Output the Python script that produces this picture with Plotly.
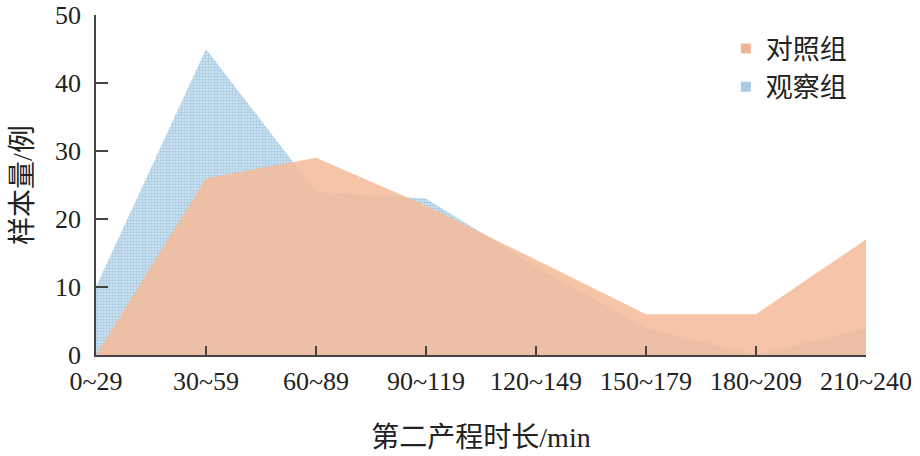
import plotly.graph_objects as go

categories = ["0~29", "30~59", "60~89", "90~119", "120~149", "150~179", "180~209", "210~240"]
control_values = [0, 26, 29, 22, 14, 6, 6, 17]      # 对照组
observe_values = [10, 45, 24, 23, 13, 4, 0, 4]      # 观察组
y_ticks = [0, 10, 20, 30, 40, 50]

FONT = "Liberation Serif, Times New Roman, Noto Sans CJK SC, serif"
BLUE_BG = "#c9e1f1"
BLUE_DOT = "#7fa9cc"
ORANGE = "rgba(245,187,154,0.86)"
ORANGE_LEG = "#eeb597"

fig = go.Figure()

fig.add_trace(go.Scatter(
    x=categories, y=observe_values, mode="lines", fill="tozeroy",
    line=dict(width=0, color=BLUE_BG), fillcolor=BLUE_BG,
    fillpattern=dict(shape=".", fgcolor=BLUE_DOT, bgcolor=BLUE_BG, size=3, solidity=0.4),
    showlegend=False, hoverinfo="skip",
))
fig.add_trace(go.Scatter(
    x=categories, y=control_values, mode="lines", fill="tozeroy",
    line=dict(width=0, color=ORANGE), fillcolor=ORANGE,
    showlegend=False, hoverinfo="skip",
))

# legend entries
fig.add_trace(go.Scatter(x=[None], y=[None], mode="markers", name="对照组",
                         marker=dict(symbol="square", size=10, color=ORANGE_LEG)))
fig.add_trace(go.Scatter(x=[None], y=[None], mode="markers", name="观察组",
                         marker=dict(symbol="square", size=10, color="#a9cbe4")))

fig.update_layout(
    width=920, height=456,
    margin=dict(l=96, r=54, t=15, b=101),
    paper_bgcolor="white", plot_bgcolor="white",
    font=dict(family=FONT, size=26, color="#222"),
    legend=dict(x=0.818, y=0.972, xanchor="left", yanchor="top",
                font=dict(size=27, color="#222"), bgcolor="rgba(0,0,0,0)",
                itemwidth=30, tracegroupgap=0),
    xaxis=dict(
        type="category", categoryorder="array", categoryarray=categories,
        range=[0, 7], showgrid=False, zeroline=False, automargin=False,
        showline=True, linecolor="#444", linewidth=1.5,
        ticks="inside", ticklen=9, tickwidth=1.5, tickcolor="#444",
        tickfont=dict(size=26, family=FONT), ticklabelstandoff=2,
        title=dict(text="第二产程时长/min", font=dict(size=28, family=FONT), standoff=32),
    ),
    yaxis=dict(
        range=[0, 50], tickvals=y_ticks, showgrid=False, zeroline=False, automargin=False,
        showline=True, linecolor="#444", linewidth=1.5,
        ticks="inside", ticklen=12, tickwidth=1.5, tickcolor="#444",
        tickfont=dict(size=26, family=FONT), ticklabelstandoff=8,
        title=dict(text="样本量/例", font=dict(size=28, family=FONT), standoff=14),
    ),
)

fig.write_html("out.html", config={"displayModeBar": False},
               post_script="document.body.style.margin='0';")
